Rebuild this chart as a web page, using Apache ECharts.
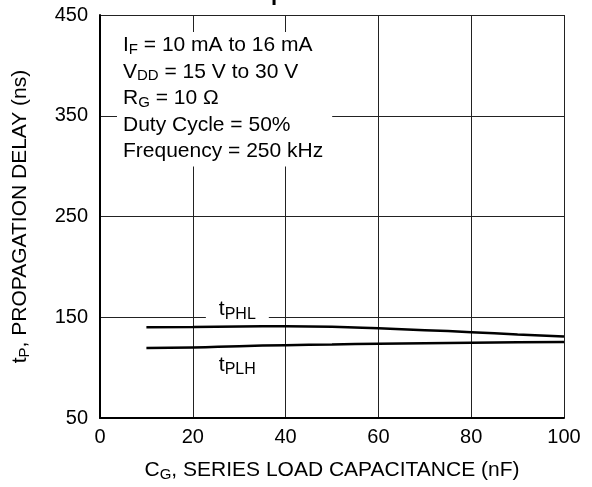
<!DOCTYPE html>
<html><head><meta charset="utf-8">
<script src="https://cdn.jsdelivr.net/npm/echarts@6/dist/echarts.min.js"></script>
<style>html,body{margin:0;padding:0;background:#fff}#c{width:592px;height:487px}</style>
</head><body><div id="c"></div>
<script>
const capacitance = [10, 20, 30, 40, 50, 60, 70, 80, 90, 100];
const tPHL = [140, 140.3, 140.8, 141, 140.5, 139, 137.2, 135.2, 133, 131];
const tPLH = [119.5, 120, 121.3, 122.3, 123, 123.7, 124.2, 124.7, 125.1, 125.4];
const xTicks = [0, 20, 40, 60, 80, 100];
const yTicks = [50, 150, 250, 350, 450];
const conditions = [
  'I{sub|F} = 10 mA to 16 mA',
  'V{sub|DD} = 15 V to 30 V',
  'R{sub|G} = 10 \u03A9',
  'Duty Cycle = 50%',
  'Frequency = 250 kHz'
];

const FONT = '"Liberation Sans", Arial, Helvetica, sans-serif';
const pair = (xs, ys) => xs.map((x, i) => [x, ys[i]]);
const subStyle = (fs) => ({fontSize: fs, padding: [9, 0, 0, 0], fontFamily: FONT, color: '#000'});

const chart = echarts.init(document.getElementById('c'), null, {renderer: 'canvas'});
chart.setOption({
  animation: false,
  backgroundColor: '#fff',
  textStyle: {fontFamily: FONT, color: '#000'},
  grid: {left: 100, right: 28, top: 15, bottom: 65.5},
  xAxis: {
    type: 'value',
    min: xTicks[0], max: xTicks[xTicks.length - 1], interval: xTicks[1] - xTicks[0],
    axisLine: {show: true, onZero: false, lineStyle: {color: '#000', width: 2}},
    axisTick: {show: false},
    axisLabel: {fontSize: 20, color: '#000', margin: 9, fontFamily: FONT},
    splitLine: {show: true, lineStyle: {color: '#222', width: 1}},
    name: 'C{sub|G}, SERIES LOAD CAPACITANCE (nF)',
    nameLocation: 'middle', nameGap: 40,
    nameTextStyle: {fontSize: 21, color: '#000', fontFamily: FONT, rich: {sub: subStyle(15)}}
  },
  yAxis: {
    type: 'value',
    min: yTicks[0], max: yTicks[yTicks.length - 1], interval: yTicks[1] - yTicks[0],
    axisLine: {show: true, lineStyle: {color: '#000', width: 2}},
    axisTick: {show: false},
    axisLabel: {fontSize: 20, color: '#000', margin: 12, fontFamily: FONT},
    splitLine: {show: true, lineStyle: {color: '#222', width: 1}},
    name: 't{sub|P}, PROPAGATION DELAY (ns)',
    nameLocation: 'middle', nameGap: 68,
    nameTextStyle: {fontSize: 21, color: '#000', fontFamily: FONT, rich: {sub: subStyle(15)}}
  },
  series: [
    {
      name: 'tPHL', type: 'line', smooth: true, symbol: 'none',
      data: pair(capacitance, tPHL),
      lineStyle: {color: '#000', width: 2.5},
      markPoint: {
        symbol: 'circle', symbolSize: 0,
        data: [{coord: [29.6, 157.5]}],
        label: {show: true, position: 'inside', formatter: 't{sub|PHL}',
          backgroundColor: '#fff', padding: [0, 13, 0, 13],
          fontSize: 21, color: '#000', fontFamily: FONT, rich: {sub: subStyle(16)}}
      }
    },
    {
      name: 'tPLH', type: 'line', smooth: true, symbol: 'none',
      data: pair(capacitance, tPLH),
      lineStyle: {color: '#000', width: 2.5},
      markPoint: {
        symbol: 'circle', symbolSize: 0,
        data: [{coord: [29.6, 102.5]}],
        label: {show: true, position: 'inside', formatter: 't{sub|PLH}',
          fontSize: 21, color: '#000', fontFamily: FONT, rich: {sub: subStyle(16)}}
      }
    }
  ],
  graphic: [
    {
      type: 'text', left: 117, top: 32, z: 100,
      style: {
        text: conditions.join('\n'),
        font: '21px ' + FONT, fill: '#000',
        backgroundColor: '#fff', padding: [0, 9, 2, 6],
        lineHeight: 26.5,
        rich: {sub: {fontSize: 15, padding: [9, 0, 0, 0], lineHeight: 26.5, fontFamily: FONT, fill: '#000'}}
      }
    },
    {
      type: 'text', left: 271, top: -17, z: 100,
      style: {text: 'p', font: 'bold 22px ' + FONT, fill: '#000'}
    }
  ]
});
</script></body></html>
